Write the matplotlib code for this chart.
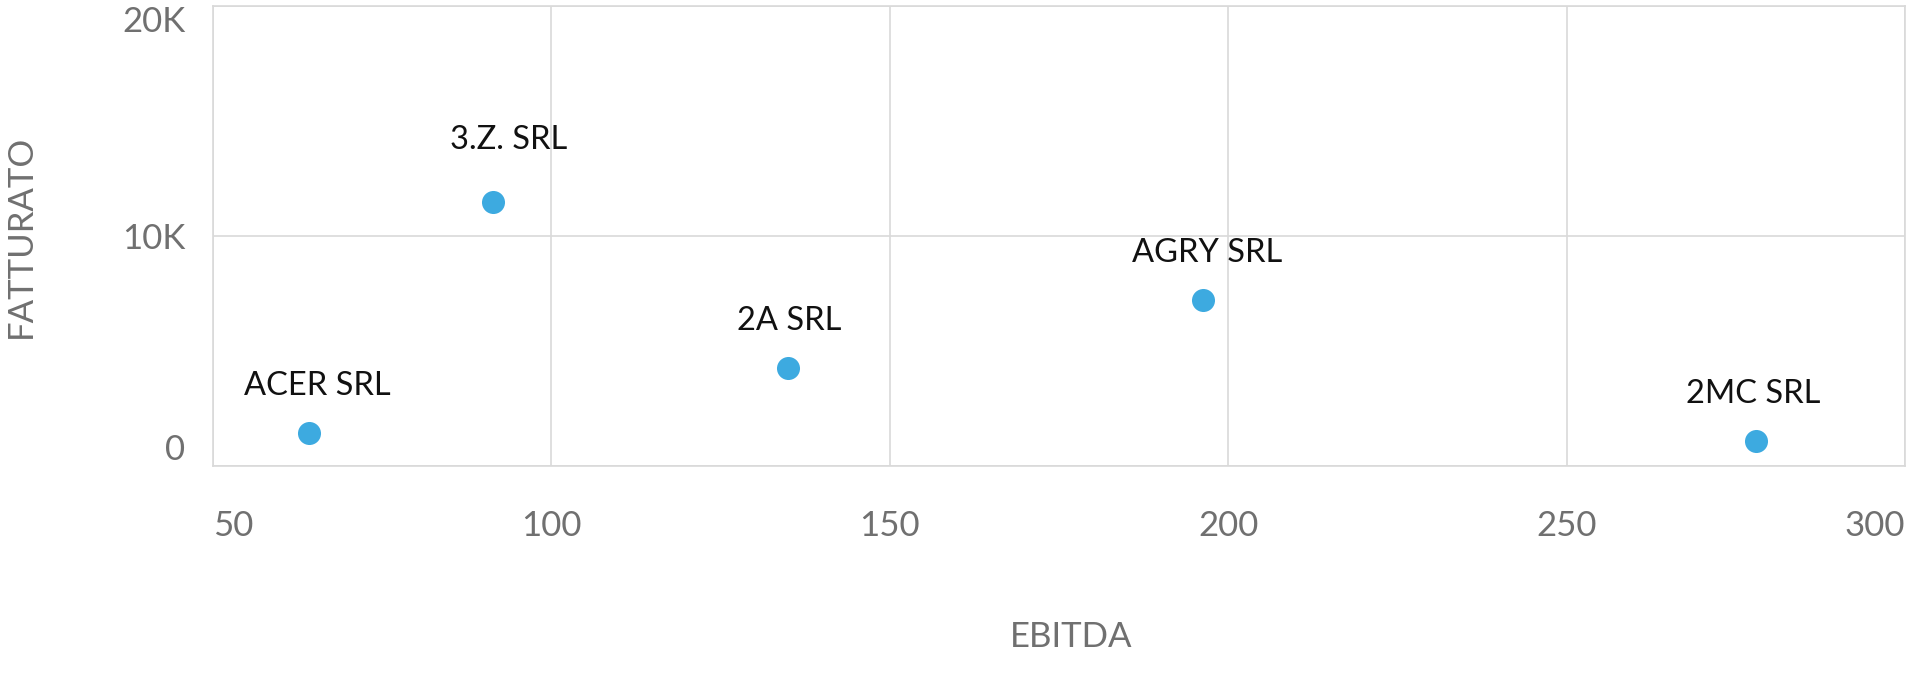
import matplotlib
matplotlib.use("Agg")
import matplotlib.pyplot as plt
from matplotlib.ticker import FuncFormatter

plt.rcParams['font.family'] = ['Lato', 'DejaVu Sans']

companies = ["ACER SRL", "3.Z. SRL", "2A SRL", "AGRY SRL", "2MC SRL"]
ebitda = [64.2, 91.4, 135.0, 196.3, 278.0]
fatturato = [1430, 11460, 4240, 7200, 1060]
x_ticks = [50, 100, 150, 200, 250, 300]
y_ticks = [0, 10000, 20000]

fig = plt.figure(figsize=(19.11, 6.73), dpi=100)
W, H = 1911, 673
ax = fig.add_axes([213 / W, 1 - 465.5 / H, (1905 - 213) / W, (465.5 - 6) / H])

ax.scatter(ebitda, fatturato, s=23**2 * 0.52, color="#3DAAE0", zorder=3, linewidths=0)
label_dx = [6, 11, 1, 3, -2]
label_dy = [36, 47, 36, 36, 36]
for name, x, y, dx, dy in zip(companies, ebitda, fatturato, label_dx, label_dy):
    ax.annotate(name, (x, y), xytext=(dx, dy), textcoords="offset points",
                ha="center", va="center_baseline", fontsize=23.5, color="#111111")

ax.set_xlim(50, 300)
ax.set_ylim(0, 20000)
ax.set_xticks(x_ticks)
ax.set_yticks(y_ticks)
ax.yaxis.set_major_formatter(FuncFormatter(lambda v, p: "0" if v == 0 else f"{int(v/1000)}K"))
ax.grid(True, color="#d9d9d9", linewidth=1.2)
ax.set_axisbelow(True)
for s in ax.spines.values():
    s.set_color("#d9d9d9")
    s.set_linewidth(1.2)
ax.tick_params(axis="both", length=0, labelsize=25, labelcolor="#707070")
ax.tick_params(axis="x", pad=32)
ax.tick_params(axis="y", pad=20)

xl = ax.get_xticklabels()
xl[0].set_ha("left")
xl[-1].set_ha("right")
yl = ax.get_yticklabels()
yl[0].set_va("bottom")
yl[-1].set_va("top")

fig.text(1071 / W, 1 - 637 / H, "EBITDA", ha="center", va="center",
         fontsize=25, color="#707070")
fig.text(21 / W, 1 - 236 / H, "FATTURATO", rotation=90, ha="center", va="center",
         fontsize=25, color="#707070")

fig.savefig("out.png", dpi=100)
